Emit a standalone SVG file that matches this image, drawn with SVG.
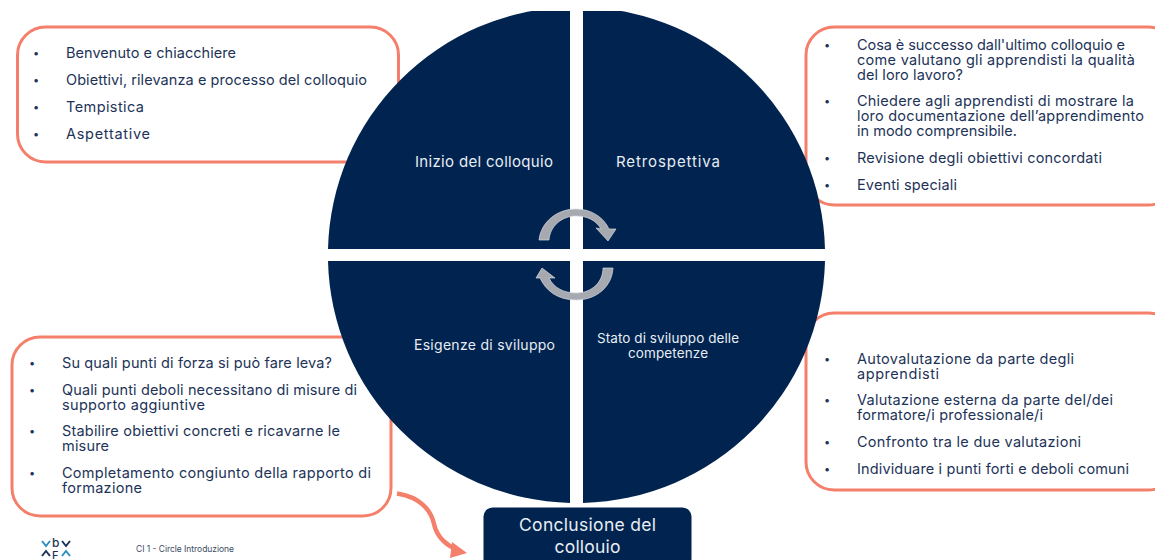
<svg xmlns="http://www.w3.org/2000/svg" width="1155" height="560" viewBox="0 0 1155 560">
<style>
text{font-family:"Inter","Noto Sans","Liberation Sans",sans-serif}
.box{fill:#fff;stroke:#f47f6b;stroke-width:3}
.t{font-size:14.5px;fill:#1d3358}
.b{font-size:11px;fill:#1d3358}
.c{font-size:15px;fill:#e8edf4;text-anchor:middle}
.q{fill:#00234f}
.ar{fill:#a7a9b0;stroke:#d6d8dc;stroke-width:.7}
.lg{font-size:12px;fill:#1d3358;font-weight:500}
.ch{fill:none;stroke-width:2}
</style>
<defs><clipPath id="disc"><rect x="320" y="11" width="512" height="500"/></clipPath></defs>
<rect width="1155" height="560" fill="#fff"/>
<g id="box-inizio"><rect class="box" x="17.500" y="27" width="381" height="135" rx="28"/>
<text class="b" x="33" y="57">•</text><text class="t" x="66" y="58" textLength="170">Benvenuto e chiacchiere</text>
<text class="b" x="33" y="84">•</text><text class="t" x="66" y="85" textLength="301">Obiettivi, rilevanza e processo del colloquio</text>
<text class="b" x="33" y="111">•</text><text class="t" x="66" y="112" textLength="78">Tempistica</text>
<text class="b" x="33" y="138">•</text><text class="t" x="66" y="139" textLength="84">Aspettative</text></g>
<g id="box-retro"><rect class="box" x="806" y="27" width="370" height="178" rx="28"/>
<text class="b" x="824" y="49">•</text><text class="t" x="857" y="50" textLength="268">Cosa è successo dall'ultimo colloquio e</text>
<text class="t" x="857" y="65" textLength="278">come valutano gli apprendisti la qualità</text>
<text class="t" x="857" y="80" textLength="106">del loro lavoro?</text>
<text class="b" x="824" y="105">•</text><text class="t" x="857" y="106" textLength="277">Chiedere agli apprendisti di mostrare la</text>
<text class="t" x="857" y="121" textLength="287">loro documentazione dell’apprendimento</text>
<text class="t" x="857" y="136" textLength="160">in modo comprensibile.</text>
<text class="b" x="824" y="162">•</text><text class="t" x="857" y="163" textLength="245">Revisione degli obiettivi concordati</text>
<text class="b" x="824" y="189">•</text><text class="t" x="857" y="190" textLength="100">Eventi speciali</text></g>
<g id="box-stato"><rect class="box" x="806" y="313" width="370" height="177" rx="28"/>
<text class="b" x="824" y="363">•</text><text class="t" x="857" y="364" textLength="217">Autovalutazione da parte degli</text>
<text class="t" x="857" y="379" textLength="82">apprendisti</text>
<text class="b" x="824" y="404">•</text><text class="t" x="857" y="405" textLength="256">Valutazione esterna da parte del/dei</text>
<text class="t" x="857" y="420" textLength="186">formatore/i professionale/i</text>
<text class="b" x="824" y="446">•</text><text class="t" x="857" y="447" textLength="224">Confronto tra le due valutazioni</text>
<text class="b" x="824" y="473">•</text><text class="t" x="857" y="474" textLength="272">Individuare i punti forti e deboli comuni</text></g>
<g id="box-esigenze"><rect class="box" x="12" y="337" width="379" height="179" rx="28"/>
<text class="b" x="29" y="367">•</text><text class="t" x="62" y="368" textLength="270">Su quali punti di forza si può fare leva?</text>
<text class="b" x="29" y="394">•</text><text class="t" x="62" y="395" textLength="295">Quali punti deboli necessitano di misure di</text>
<text class="t" x="62" y="410" textLength="143">supporto aggiuntive</text>
<text class="b" x="29" y="435">•</text><text class="t" x="62" y="436" textLength="278">Stabilire obiettivi concreti e ricavarne le</text>
<text class="t" x="62" y="451" textLength="47">misure</text>
<text class="b" x="29" y="477">•</text><text class="t" x="62" y="478" textLength="309">Completamento congiunto della rapporto di</text>
<text class="t" x="62" y="493" textLength="80">formazione</text></g>
<g id="cerchio" clip-path="url(#disc)">
<path class="q" d="M570 249V7.100A248 248 0 0 0 328 249Z"/>
<path class="q" d="M583 249V7.100A248 248 0 0 1 825 249Z"/>
<path class="q" d="M570 261V502.900A248 248 0 0 1 328 261Z"/>
<path class="q" d="M583 261V502.900A248 248 0 0 0 825 261Z"/>
</g>
<g id="q-inizio"><text class="c" x="484" y="167" textLength="138">Inizio del colloquio</text></g>
<g id="q-retro"><text class="c" x="668" y="167" textLength="104">Retrospettiva</text></g>
<g id="q-esigenze"><text class="c" x="484.500" y="350" style="font-size:14px" textLength="141">Esigenze di sviluppo</text></g>
<g id="q-stato"><text class="c" x="668" y="343" style="font-size:13.500px" textLength="142">Stato di sviluppo delle</text><text class="c" x="668" y="358" style="font-size:13.500px" textLength="80">competenze</text></g>
<g id="frecce">
<path class="ar" d="M539 240C541 222 557 209 576 209C592 209 604 218 609 229L616 229L608 241L596 228L601 229C596 220 587 216 576 216C562 216 550 226 549 240Z"/>
<path class="ar" d="M613 268C612 287 596 300 576 300C558 300 546 291 540 278L536 278L542 268L555 278L549 278C554 288 564 293 576 293C592 293 603 282 603 268Z"/>
</g>
<g id="connectors"><path d="M397 493.500C420 497 431 510 434 524C437 538 448 546 456 549" fill="none" stroke="#f47f6b" stroke-width="4.500"/><path d="M467 553L450 558L452 542Z" fill="#f47f6b"/></g>
<g id="conclusione"><rect x="483.500" y="507.500" width="208" height="60" rx="9" fill="#00234f"/>
<text class="c" x="587.500" y="531" style="font-size:17.500px" textLength="137">Conclusione del</text><text class="c" x="587.500" y="553" style="font-size:17.500px" textLength="66">collouio</text></g>
<g id="logo">
<path class="ch" stroke="#2a8fc0" d="M42 541L46 546L50 541"/><path class="ch" stroke="#1d3358" d="M62 541L66 546L70 541"/>
<text class="lg" x="52" y="547">b</text>
<path class="ch" stroke="#1d3358" d="M42 556L46 551L50 556"/><path class="ch" stroke="#2a8fc0" d="M62 556L66 551L70 556"/>
<text class="lg" x="52" y="559" style="font-size:11px">F</text></g>
<text x="136" y="552" style="font-size:8.500px;fill:#3c4a63" textLength="98">CI 1 - Circle Introduzione</text>
</svg>
